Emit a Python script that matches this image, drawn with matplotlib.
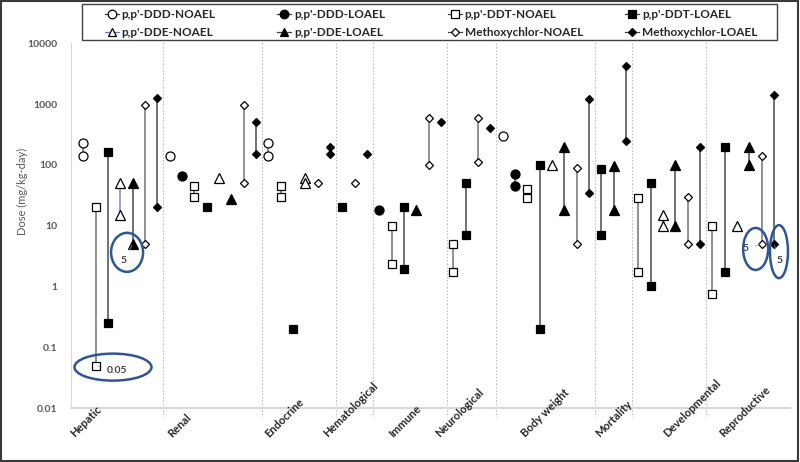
import matplotlib
matplotlib.use("Agg")
import matplotlib.pyplot as plt
from matplotlib.lines import Line2D
from matplotlib.patches import Ellipse, Rectangle
from matplotlib.transforms import ScaledTranslation, blended_transform_factory

plt.rcParams['font.family'] = ['Lato', 'DejaVu Sans']

categories = ['Hepatic', 'Renal', 'Endocrine', 'Hematological', 'Immune',
              'Neurological', 'Body weight', 'Mortality', 'Developmental', 'Reproductive']

# doses (mg/kg-day) read per endpoint; two values = range shown with a line
ddd_noael = {'Hepatic': [230, 140], 'Renal': [140], 'Endocrine': [230, 140],
             'Body weight': [300]}
ddd_loael = {'Renal': [66], 'Immune': [18], 'Body weight': [70, 45]}
ddt_noael = {'Hepatic': [20, 0.05], 'Renal': [45, 30], 'Endocrine': [45, 30],
             'Immune': [10, 2.3], 'Neurological': [5, 1.7], 'Body weight': [40, 28],
             'Developmental': [28, 1.7], 'Reproductive': [10, 0.75]}
ddt_loael = {'Hepatic': [160, 0.25], 'Renal': [20], 'Endocrine': [0.2],
             'Hematological': [20], 'Immune': [20, 1.9], 'Neurological': [50, 7],
             'Body weight': [100, 0.2], 'Mortality': [85, 7],
             'Developmental': [50, 1], 'Reproductive': [200, 1.7]}
dde_noael = {'Hepatic': [50, 15], 'Renal': [60], 'Endocrine': [60, 50],
             'Body weight': [100], 'Developmental': [15, 10], 'Reproductive': [10]}
dde_loael = {'Hepatic': [50, 5], 'Renal': [27], 'Immune': [18], 'Body weight': [200, 18],
             'Mortality': [95, 18], 'Developmental': [100, 10], 'Reproductive': [200, 100]}
mxc_noael = {'Hepatic': [950, 5], 'Renal': [950, 50], 'Endocrine': [50],
             'Hematological': [50], 'Immune': [600, 100], 'Neurological': [600, 110],
             'Body weight': [90, 5], 'Developmental': [30, 5], 'Reproductive': [140, 5]}
mxc_loael = {'Hepatic': [1250, 20], 'Renal': [500, 150], 'Endocrine': [200, 150],
             'Hematological': [150], 'Immune': [500], 'Neurological': [400],
             'Body weight': [1200, 35], 'Mortality': [4200, 250],
             'Developmental': [200, 5], 'Reproductive': [1400, 5]}

series_names = ["p,p'-DDD-NOAEL", "p,p'-DDD-LOAEL", "p,p'-DDT-NOAEL", "p,p'-DDT-LOAEL",
                "p,p'-DDE-NOAEL", "p,p'-DDE-LOAEL", "Methoxychlor-NOAEL", "Methoxychlor-LOAEL"]
series_data = [ddd_noael, ddd_loael, ddt_noael, ddt_loael,
               dde_noael, dde_loael, mxc_noael, mxc_loael]

# values that were circled on the original figure
callouts = [('Hepatic', 5, 5, '5'), ('Hepatic', 2, 0.05, '0.05'),
            ('Reproductive', 6, 5, '5'), ('Reproductive', 7, 5, '5')]

markers = ['o', 'o', 's', 's', '^', '^', 'D', 'D']
msizes = [6.5, 6.5, 6.3, 6.3, 6.6, 6.6, 4.4, 4.4]
filled = [False, True] * 4
line_cols = ['#7f7f7f', '#595959', '#7f7f7f', '#595959', '#8093c0', '#595959', '#7f7f7f', '#595959']

fig = plt.figure(figsize=(8, 4.62), dpi=100)
ax = fig.add_axes([71 / 800, 54 / 462, 719 / 800, 364.7 / 462])

x = 0
pos = {}
bounds = []
for cat in categories:
    for i, d in enumerate(series_data):
        if cat not in d:
            continue
        x += 1
        pos[(cat, i)] = x
        vals = d[cat]
        if len(vals) > 1:
            ax.plot([x, x], [max(vals), min(vals)], color=line_cols[i], lw=1.2, zorder=2)
        ax.plot([x] * len(vals), vals, ls='none', marker=markers[i], ms=msizes[i],
                mfc='black' if filled[i] else 'white', mec='black', mew=0.9, zorder=3)
    bounds.append(x + 0.5)

ax.set_yscale('log')
ax.set_ylim(0.01, 10000)
ax.set_xlim(0, 58.3)
ax.set_yticks([0.01, 0.1, 1, 10, 100, 1000, 10000])
ax.set_yticklabels(['0.01', '0.1', '1', '10', '100', '1000', '10000'])
ax.minorticks_off()
ax.set_xticks([])
ax.tick_params(axis='y', length=0, pad=10, labelsize=7.5, labelcolor='#595959')
for t in ax.get_yticklabels():
    t.set_fontweight('bold')
for s in ['top', 'right']:
    ax.spines[s].set_visible(False)
ax.spines['left'].set_color('#d9d9d9')
ax.spines['left'].set_linewidth(0.8)
ax.spines['bottom'].set_color('#d9d9d9')
ax.spines['bottom'].set_linewidth(1.6)

ax.set_ylabel('Dose (mg/kg-day)', fontsize=8, color='#595959')
ax.yaxis.set_label_coords(-0.06, 0.595)

# dotted separators between endpoints
trans = blended_transform_factory(ax.transData, ax.transAxes)
for b in bounds[:-1]:
    ax.plot([b, b], [1, -0.025], transform=trans, color='#bfbfbf', lw=0.8,
            ls=(0, (1.5, 1.5)), clip_on=False, zorder=1)

# rotated endpoint labels
label_x = [0.33, 8.2, 16.1, 20.8, 26.1, 29.9, 36.9, 42.9, 48.4, 52.9]
for lx, cat in zip(label_x, categories):
    ax.text(lx, -0.082, cat, transform=trans, rotation=45, rotation_mode='anchor',
            ha='left', va='baseline', fontsize=8, fontweight='bold', color='#262626')

# circled values (offsets and ellipse sizes in pixels)
label_off = [(-9, -17), (21, -5), (-16, -5), (6, -17)]
ell_off = [(-5.6, -8.4), (17.3, -1.6), (-6, -5), (5, -7.7)]
ell_size = [(32, 39), (77, 27), (25, 42), (18, 53)]
for (cat, si, v, txt), lo, eo, es in zip(callouts, label_off, ell_off, ell_size):
    px = pos[(cat, si)]
    ax.annotate(txt, (px, v), xytext=lo, textcoords='offset pixels', ha='center',
                va='center', fontsize=7.5, fontweight='bold', color='#404040',
                arrowprops=dict(arrowstyle='-', color='#a6a6a6', lw=0.5,
                                shrinkA=3, shrinkB=1))
    tr = fig.dpi_scale_trans + ScaledTranslation(px, v, ax.transData)
    ax.add_patch(Ellipse((eo[0] / 100, eo[1] / 100), es[0] / 100, es[1] / 100,
                         transform=tr, fill=False, ec='#2f5597', lw=1.8,
                         clip_on=False, zorder=4))

# legend drawn by hand: 4 evenly spaced columns, 2 rows (pixel positions)
col_px = [111.6, 284, 454.6, 631.8]
row_px = [14, 32]
W, H = 800, 462
for i, name in enumerate(series_names):
    mx = col_px[i % 4]
    my = 1 - row_px[i // 4] / H
    lc = '#5b7bbf' if i == 4 else '#404040'
    fig.add_artist(Line2D([(mx - 7) / W, (mx + 7) / W], [my, my], transform=fig.transFigure,
                          color=lc, lw=0.9))
    fig.add_artist(Line2D([mx / W], [my], transform=fig.transFigure, ls='none',
                          marker=markers[i], ms=msizes[i] * 0.95,
                          mfc='black' if filled[i] else 'white', mec='black', mew=0.9))
    fig.text((mx + 10) / W, my, name, ha='left', va='center', fontsize=8.5,
             fontweight='bold', color='#262626')
fig.patches.append(Rectangle((82 / W, 1 - 40 / H), 695 / W, 36 / H,
                             transform=fig.transFigure, fill=False, ec='#404040', lw=1.0))

fig.patches.append(Rectangle((0.001, 0.002), 0.997, 0.996, transform=fig.transFigure,
                             fill=False, ec='#3a3a3a', lw=1.5))

fig.savefig('out.png', dpi=100)
